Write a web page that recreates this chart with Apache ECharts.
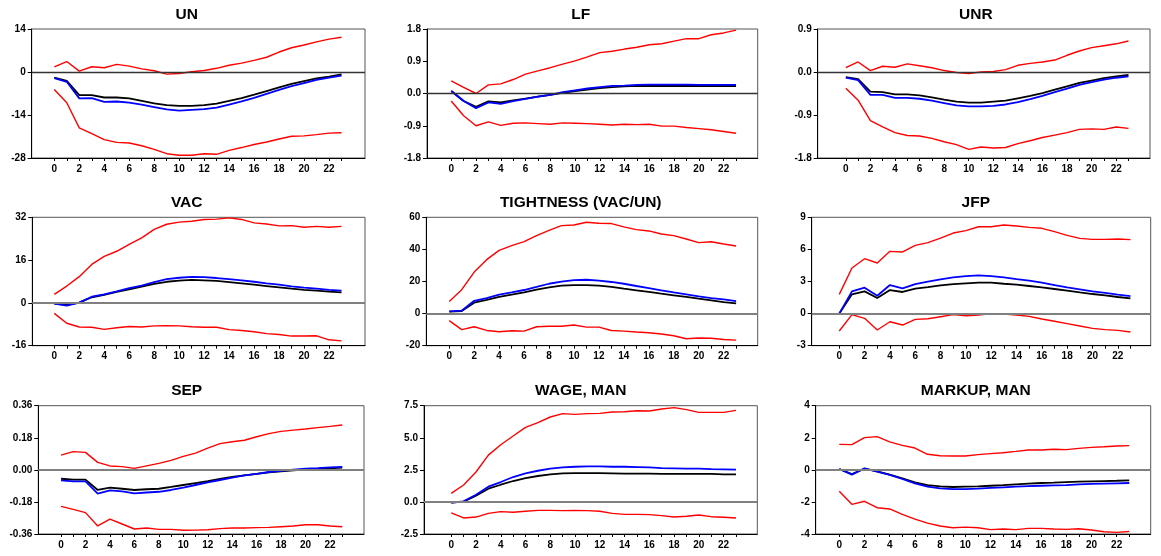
<!DOCTYPE html>
<html>
<head>
<meta charset="utf-8">
<script src="https://cdn.jsdelivr.net/npm/echarts@6/dist/echarts.min.js"></script>
<style>
html,body{margin:0;padding:0;background:#fff;}
#c{width:1161px;height:556px;}
</style>
</head>
<body>
<div id="c"></div>
<script>
// ---- data ----
var steps = [0,1,2,3,4,5,6,7,8,9,10,11,12,13,14,15,16,17,18,19,20,21,22,23];
var xTickValues = [0,1,2,3,4,5,6,7,8,9,10,11,12,13,14,15,16,17,18,19,20,21,22,23];
var xLabelValues = [0,2,4,6,8,10,12,14,16,18,20,22];
var titles = ["UN","LF","UNR","VAC","TIGHTNESS (VAC/UN)","JFP","SEP","WAGE, MAN","MARKUP, MAN"];

var unUpper = [1.7,3.4,0.3,1.7,1.4,2.5,1.9,1.0,0.4,-0.7,-0.5,0.1,0.5,1.2,2.2,2.9,3.8,4.8,6.5,7.9,8.8,9.8,10.7,11.3];
var unLower = [-5.7,-10.0,-18.2,-20.1,-22.0,-22.9,-23.1,-24.0,-25.2,-26.6,-27.1,-27.1,-26.6,-26.8,-25.5,-24.6,-23.6,-22.8,-21.8,-20.9,-20.8,-20.4,-19.9,-19.8];
var unBlack = [-1.8,-2.9,-7.5,-7.5,-8.3,-8.3,-8.6,-9.4,-10.2,-10.8,-11.0,-11.0,-10.8,-10.3,-9.4,-8.5,-7.4,-6.2,-5.0,-3.9,-3.0,-2.1,-1.5,-0.8];
var unBlue = [-2.0,-3.2,-8.6,-8.5,-9.7,-9.6,-10.0,-10.6,-11.4,-12.2,-12.6,-12.3,-12.1,-11.6,-10.6,-9.6,-8.4,-7.1,-5.8,-4.6,-3.6,-2.6,-1.8,-1.2];

var lfUpper = [0.35,0.17,0.0,0.24,0.27,0.39,0.54,0.63,0.72,0.82,0.91,1.02,1.14,1.18,1.24,1.29,1.36,1.39,1.46,1.53,1.53,1.64,1.69,1.77];
var lfLower = [-0.21,-0.62,-0.90,-0.79,-0.89,-0.83,-0.82,-0.84,-0.86,-0.82,-0.83,-0.84,-0.86,-0.88,-0.86,-0.87,-0.86,-0.91,-0.91,-0.95,-0.98,-1.01,-1.06,-1.11];
var lfBlack = [0.07,-0.21,-0.37,-0.22,-0.25,-0.19,-0.14,-0.09,-0.04,0.02,0.07,0.11,0.15,0.18,0.20,0.21,0.21,0.21,0.21,0.21,0.21,0.21,0.21,0.21];
var lfBlue = [0.07,-0.21,-0.41,-0.25,-0.29,-0.21,-0.15,-0.09,-0.04,0.04,0.09,0.14,0.18,0.21,0.22,0.24,0.25,0.25,0.25,0.25,0.24,0.24,0.24,0.24];

var unrUpper = [0.09,0.21,0.03,0.12,0.10,0.17,0.13,0.09,0.03,-0.01,-0.03,0.0,0.01,0.05,0.14,0.18,0.21,0.25,0.35,0.44,0.51,0.55,0.59,0.65];
var unrLower = [-0.34,-0.59,-1.02,-1.15,-1.27,-1.33,-1.34,-1.39,-1.46,-1.52,-1.62,-1.57,-1.59,-1.58,-1.50,-1.44,-1.37,-1.32,-1.27,-1.20,-1.19,-1.20,-1.15,-1.18];
var unrBlack = [-0.11,-0.15,-0.41,-0.42,-0.47,-0.47,-0.49,-0.53,-0.58,-0.62,-0.64,-0.64,-0.62,-0.60,-0.55,-0.50,-0.44,-0.37,-0.30,-0.23,-0.18,-0.13,-0.09,-0.06];
var unrBlue = [-0.12,-0.17,-0.48,-0.48,-0.54,-0.54,-0.56,-0.60,-0.65,-0.70,-0.72,-0.72,-0.71,-0.68,-0.63,-0.57,-0.50,-0.42,-0.35,-0.27,-0.21,-0.16,-0.12,-0.09];

var vacUpper = [3.2,6.3,9.8,14.4,17.4,19.3,21.9,24.3,27.5,29.4,30.2,30.5,31.2,31.3,31.8,31.2,29.9,29.5,28.8,28.9,28.3,28.6,28.3,28.6];
var vacLower = [-3.9,-7.6,-9.0,-9.1,-9.9,-9.3,-8.8,-9.0,-8.6,-8.5,-8.6,-8.9,-9.1,-9.1,-10.0,-10.3,-10.8,-11.5,-11.8,-12.4,-12.4,-12.3,-13.8,-14.2];
var vacBlack = [-0.3,-0.7,0.1,2.1,3.0,4.1,5.1,6.1,7.1,7.9,8.3,8.6,8.4,8.2,7.8,7.3,6.8,6.3,5.8,5.3,4.9,4.6,4.2,3.9];
var vacBlue = [-0.3,-1.0,0.1,2.3,3.2,4.3,5.5,6.5,7.8,8.9,9.4,9.7,9.6,9.3,8.9,8.4,7.9,7.3,6.8,6.2,5.7,5.3,4.9,4.6];

var tightUpper = [7.6,14.9,25.9,33.6,39.4,42.3,44.8,48.6,51.9,54.8,55.2,56.9,56.3,56.1,54.0,52.3,51.5,49.6,48.6,46.5,44.2,44.8,43.4,42.1];
var tightLower = [-4.4,-10.0,-8.2,-10.5,-11.3,-10.7,-10.9,-8.2,-7.9,-7.9,-7.1,-8.4,-8.4,-10.5,-10.9,-11.5,-11.9,-12.7,-13.8,-15.7,-15.2,-15.4,-16.1,-16.5];
var tightBlack = [1.2,1.6,6.8,8.5,10.4,11.8,13.2,14.9,16.4,17.4,17.8,17.8,17.4,16.6,15.5,14.5,13.5,12.4,11.4,10.4,9.3,8.3,7.2,6.4];
var tightBlue = [1.4,1.8,8.0,9.7,11.8,13.2,14.7,16.6,18.6,19.9,20.9,21.1,20.5,19.7,18.6,17.2,15.9,14.5,13.2,12.0,10.7,9.7,8.8,7.8];

var jfpUpper = [1.8,4.26,5.13,4.73,5.82,5.76,6.38,6.63,7.06,7.53,7.75,8.12,8.12,8.28,8.19,8.06,7.97,7.66,7.31,7.03,6.94,6.94,6.97,6.91];
var jfpLower = [-1.63,-0.1,-0.44,-1.53,-0.76,-1.07,-0.54,-0.48,-0.29,-0.1,-0.2,-0.13,0.0,-0.04,-0.13,-0.26,-0.51,-0.72,-0.94,-1.16,-1.38,-1.5,-1.57,-1.72];
var jfpBlack = [0,1.8,2.08,1.46,2.2,2.02,2.33,2.48,2.64,2.76,2.83,2.89,2.89,2.79,2.7,2.58,2.45,2.3,2.14,1.98,1.83,1.7,1.55,1.43];
var jfpBlue = [0,2.08,2.42,1.67,2.67,2.36,2.76,2.98,3.2,3.39,3.51,3.57,3.51,3.39,3.23,3.08,2.89,2.67,2.45,2.27,2.08,1.93,1.77,1.64];

var sepUpper = [0.083,0.102,0.098,0.042,0.022,0.018,0.008,0.022,0.036,0.053,0.076,0.094,0.122,0.147,0.158,0.166,0.186,0.203,0.216,0.223,0.229,0.237,0.244,0.252];
var sepLower = [-0.205,-0.222,-0.240,-0.315,-0.276,-0.304,-0.332,-0.326,-0.334,-0.334,-0.339,-0.338,-0.336,-0.330,-0.326,-0.326,-0.324,-0.323,-0.319,-0.315,-0.308,-0.308,-0.315,-0.319];
var sepBlack = [-0.050,-0.055,-0.055,-0.113,-0.100,-0.106,-0.113,-0.109,-0.106,-0.096,-0.085,-0.074,-0.063,-0.051,-0.040,-0.031,-0.022,-0.014,-0.008,-0.003,0.001,0.005,0.008,0.012];
var sepBlue = [-0.059,-0.065,-0.065,-0.134,-0.115,-0.121,-0.132,-0.127,-0.123,-0.113,-0.100,-0.085,-0.070,-0.057,-0.044,-0.031,-0.022,-0.012,-0.005,0.001,0.007,0.010,0.014,0.016];

var wageUpper = [0.67,1.32,2.33,3.65,4.46,5.14,5.81,6.18,6.62,6.88,6.82,6.88,6.90,7.01,7.03,7.11,7.09,7.24,7.35,7.19,6.98,6.98,6.98,7.14];
var wageLower = [-0.86,-1.25,-1.18,-0.89,-0.76,-0.81,-0.73,-0.66,-0.66,-0.68,-0.66,-0.68,-0.73,-0.89,-0.97,-0.97,-0.99,-1.07,-1.18,-1.12,-1.02,-1.15,-1.20,-1.25];
var wageBlack = [-0.06,0.02,0.49,1.03,1.34,1.63,1.86,2.02,2.15,2.23,2.25,2.25,2.25,2.23,2.20,2.20,2.20,2.18,2.18,2.18,2.18,2.18,2.15,2.15];
var wageBlue = [-0.06,0.05,0.56,1.19,1.55,1.94,2.23,2.43,2.59,2.69,2.74,2.77,2.77,2.74,2.74,2.72,2.69,2.64,2.62,2.59,2.59,2.56,2.54,2.51];

var markupUpper = [1.59,1.57,2.01,2.07,1.74,1.53,1.36,0.97,0.88,0.86,0.86,0.95,1.01,1.07,1.15,1.24,1.24,1.28,1.26,1.34,1.40,1.44,1.49,1.51];
var markupLower = [-1.34,-2.15,-1.96,-2.36,-2.44,-2.78,-3.07,-3.32,-3.50,-3.61,-3.57,-3.61,-3.73,-3.69,-3.73,-3.65,-3.65,-3.69,-3.71,-3.67,-3.75,-3.86,-3.90,-3.84];
var markupBlack = [0.05,-0.26,0.07,-0.09,-0.30,-0.53,-0.78,-0.95,-1.03,-1.07,-1.05,-1.03,-0.99,-0.95,-0.90,-0.86,-0.82,-0.80,-0.76,-0.74,-0.72,-0.70,-0.68,-0.65];
var markupBlue = [0.05,-0.30,0.09,-0.11,-0.32,-0.57,-0.84,-1.05,-1.15,-1.20,-1.20,-1.17,-1.13,-1.09,-1.05,-1.01,-0.99,-0.97,-0.95,-0.90,-0.88,-0.86,-0.84,-0.82];

// y-axis tick settings per panel: [min, max, interval, decimals]
var yScales = [
  [-28, 14, 14, 0],
  [-1.8, 1.8, 0.9, 1],
  [-1.8, 0.9, 0.9, 1],
  [-16, 32, 16, 0],
  [-20, 60, 20, 0],
  [-3, 9, 3, 0],
  [-0.36, 0.36, 0.18, 2],
  [-2.5, 7.5, 2.5, 1],
  [-4, 4, 2, 0]
];

var panelSeries = [
  [unUpper, unLower, unBlack, unBlue],
  [lfUpper, lfLower, lfBlack, lfBlue],
  [unrUpper, unrLower, unrBlack, unrBlue],
  [vacUpper, vacLower, vacBlack, vacBlue],
  [tightUpper, tightLower, tightBlack, tightBlue],
  [jfpUpper, jfpLower, jfpBlack, jfpBlue],
  [sepUpper, sepLower, sepBlack, sepBlue],
  [wageUpper, wageLower, wageBlack, wageBlue],
  [markupUpper, markupLower, markupBlack, markupBlue]
];

// ---- layout (pixels) ----
var gridBoxes = [
  {left: 31.7, top: 29, width: 333.3, height: 129, xMin: -1.81, xMax: 24.88},
  {left: 427, top: 29, width: 330.7, height: 129, xMin: -1.96, xMax: 24.75},
  {left: 817.7, top: 29, width: 332.3, height: 129, xMin: -2.29, xMax: 24.75},
  {left: 32.3, top: 217.3, width: 332.7, height: 128.4, xMin: -1.76, xMax: 24.88},
  {left: 426.3, top: 217.3, width: 331.4, height: 128.4, xMin: -1.84, xMax: 24.73},
  {left: 811.7, top: 217.3, width: 339, height: 128.4, xMin: -2.18, xMax: 24.6},
  {left: 38.3, top: 405.7, width: 325.7, height: 128.3, xMin: -1.86, xMax: 24.78},
  {left: 424, top: 405.7, width: 333.3, height: 128.3, xMin: -2.2, xMax: 24.72},
  {left: 815.7, top: 405.7, width: 335, height: 128.3, xMin: -1.87, xMax: 24.7}
];
var titleX = [186.7, 580.7, 975.8];
var titleY = [15, 203, 391];

var FONT = '"Liberation Sans", Arial, sans-serif';

function pairs(arr){ return steps.map(function(s,i){ return [s, arr[i]]; }); }

var grids = [], xAxes = [], yAxes = [], series = [], graphics = [];
for (var p = 0; p < 9; p++) {
  var g = gridBoxes[p];
  grids.push({left: g.left, top: g.top, width: g.width, height: g.height,
    show: true, borderColor: '#555', borderWidth: 1, backgroundColor: 'transparent'});
  xAxes.push({
    type: 'value', gridIndex: p, min: g.xMin, max: g.xMax,
    axisLine: {show: true, onZero: false, lineStyle: {color: '#000', width: 1}},
    axisTick: {show: true, customValues: xTickValues, length: 3, lineStyle: {color: '#000'}},
    axisLabel: {show: true, customValues: xLabelValues, margin: 6,
      fontFamily: FONT, fontWeight: 'bold', fontSize: 10, color: '#000'},
    splitLine: {show: false}
  });
  var ys = yScales[p];
  (function(dec){
    yAxes.push({
      type: 'value', gridIndex: p, min: ys[0], max: ys[1], interval: ys[2],
      axisLine: {show: true, onZero: false, lineStyle: {color: '#000', width: 1}},
      axisTick: {show: true, length: 4, lineStyle: {color: '#000'}},
      axisLabel: {show: true, margin: 6, fontFamily: FONT, fontWeight: 'bold', fontSize: 10, color: '#000',
        formatter: function(v){ return (Math.abs(v) < 1e-9 ? 0 : v).toFixed(dec); }},
      splitLine: {show: false}
    });
  })(ys[3]);
  var row = Math.floor(p / 3);
  var zeroColor = row === 0 ? '#333' : '#808080';
  var zeroWidth = row === 0 ? 1.3 : 2;
  var d = panelSeries[p];
  series.push({
    type: 'line', xAxisIndex: p, yAxisIndex: p, data: pairs(d[0]), symbol: 'none',
    lineStyle: {color: '#ff0000', width: 1.4}, z: 3,
    markLine: {silent: true, symbol: 'none', label: {show: false},
      lineStyle: {color: zeroColor, width: zeroWidth, type: 'solid'},
      data: [{yAxis: 0}], animation: false}
  });
  series.push({type: 'line', xAxisIndex: p, yAxisIndex: p, data: pairs(d[1]), symbol: 'none',
    lineStyle: {color: '#ff0000', width: 1.4}, z: 3});
  series.push({type: 'line', xAxisIndex: p, yAxisIndex: p, data: pairs(d[2]), symbol: 'none',
    lineStyle: {color: '#000000', width: 1.8}, z: 3});
  series.push({type: 'line', xAxisIndex: p, yAxisIndex: p, data: pairs(d[3]), symbol: 'none',
    lineStyle: {color: '#0000ff', width: 1.8}, z: 3});
  graphics.push({type: 'text', x: titleX[p % 3], y: titleY[row],
    style: {text: titles[p], fill: '#000', font: 'bold 15.5px ' + FONT, align: 'center', verticalAlign: 'middle'}});
}

var chart = echarts.init(document.getElementById('c'), null, {renderer: 'canvas'});
chart.setOption({
  animation: false,
  backgroundColor: '#fff',
  grid: grids,
  xAxis: xAxes,
  yAxis: yAxes,
  series: series,
  graphic: graphics
});
</script>
</body>
</html>
